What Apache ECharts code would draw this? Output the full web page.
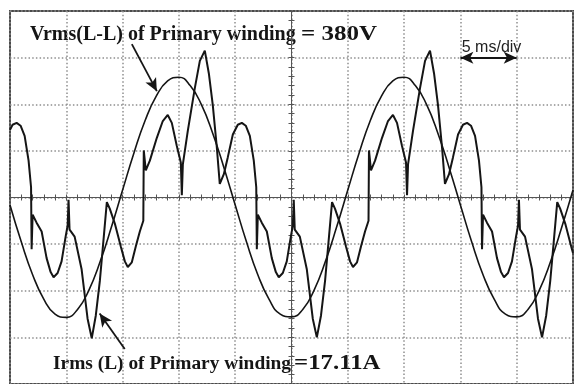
<!DOCTYPE html>
<html>
<head>
<meta charset="utf-8">
<script src="https://cdn.jsdelivr.net/npm/echarts@6/dist/echarts.min.js"></script>
<style>
  html, body { margin: 0; padding: 0; background: #fff; }
  #chart { width: 581px; height: 384px; }
</style>
</head>
<body>
<div id="chart"></div>
<script>
// Time axis in ms (10 divisions of 5 ms), vertical axis in screen divisions.
const timeRange = [-25, 25];
const timeStep = 5;
const divRange = [-4, 4];

// Line-to-line voltage of the primary winding, sampled every 1 ms (divisions).
const voltTime = [-25,-24,-23,-22,-21,-20,-19,-18,-17,-16,-15,-14,-13,-12,-11,-10,-9,-8,-7,-6,-5,-4,-3,-2,-1,
  0,1,2,3,4,5,6,7,8,9,10,11,12,13,14,15,16,17,18,19,20,21,22,23,24,25];
const voltDiv = [-0.16,-0.95,-1.65,-2.18,-2.50,-2.57,-2.40,-1.99,-1.38,-0.64,0.16,0.95,1.65,2.18,2.50,2.58,2.40,1.99,1.38,0.64,
  -0.16,-0.95,-1.65,-2.18,-2.50,-2.56,-2.40,-1.99,-1.38,-0.64,0.16,0.95,1.65,2.18,2.50,2.58,2.40,1.99,1.38,0.64,
  -0.16,-0.95,-1.65,-2.18,-2.50,-2.56,-2.40,-1.99,-1.38,-0.64,0.16];

// Line current of the primary winding (divisions).
const currTime = [
  -25.00,-24.77,-24.41,-24.06,-23.70,-23.35,-23.13,-23.08,-22.99,-22.64,-22.19,-21.75,-21.39,-21.13,-20.77,-20.42,
  -20.06,-19.88,-19.80,-19.71,-19.26,-18.64,-18.11,
  -17.74,-17.38,-17.02,-16.67,-16.40,-16.14,-15.69,-15.16,-14.80,-14.54,-14.18,-13.83,-13.47,-13.16,-13.12,-12.94,
  -12.58,-11.96,-11.43,-10.99,-10.63,-10.19,-9.83,-9.74,-9.65,-9.21,-8.59,-8.14,-7.70,-7.34,-6.99,-6.63,-6.37,
  -6.01,-5.66,-5.21,-4.77,-4.41,-4.06,-3.70,-3.35,-3.13,-3.08,-2.99,-2.64,-2.19,-1.75,-1.39,-1.13,-0.77,-0.42,
  -0.06,0.12,0.20,0.29,0.74,1.36,1.89,2.25,
  2.62,2.98,3.33,3.60,3.86,4.31,4.84,5.20,5.46,5.82,6.17,6.53,6.84,6.88,7.06,7.42,8.04,8.57,9.01,9.37,9.81,
  10.17,10.26,10.35,10.79,11.41,11.86,12.30,12.66,13.01,13.37,13.63,13.99,14.34,14.79,15.23,15.59,15.94,16.30,
  16.65,16.87,16.92,17.01,17.36,17.81,18.25,18.61,18.87,19.23,19.58,19.94,20.12,20.20,20.29,20.74,21.36,21.89,22.25,
  22.62,22.98,23.33,23.60,23.86,24.31,24.84,25.00];
const currDiv = [
  1.45,1.56,1.60,1.54,1.32,0.79,0.22,-1.11,-0.37,-0.54,-0.73,-1.30,-1.60,-1.71,-1.62,-1.37,
  -0.84,-0.60,-0.05,-0.69,-0.84,-1.54,-2.60,
  -3.02,-2.53,-1.79,-0.84,-0.10,-0.24,-0.56,-1.05,-1.37,-1.49,-1.39,-1.05,-0.73,-0.50,1.01,0.58,
  0.79,1.28,1.64,1.77,1.60,1.11,0.75,0.05,0.71,1.43,2.34,2.93,3.15,2.66,1.98,1.07,0.29,
  0.50,0.86,1.35,1.56,1.60,1.54,1.32,0.79,0.22,-1.11,-0.37,-0.54,-0.73,-1.30,-1.60,-1.71,-1.62,-1.37,
  -0.84,-0.60,-0.05,-0.69,-0.84,-1.54,-2.60,-3.00,
  -2.53,-1.79,-0.84,-0.10,-0.24,-0.56,-1.05,-1.37,-1.49,-1.39,-1.05,-0.73,-0.50,1.01,0.58,0.79,1.28,1.64,1.77,1.60,1.11,
  0.75,0.05,0.71,1.43,2.34,2.93,3.15,2.66,1.98,1.07,0.29,0.50,0.86,1.35,1.56,1.60,1.54,1.32,
  0.79,0.22,-1.11,-0.37,-0.54,-0.73,-1.30,-1.60,-1.71,-1.62,-1.37,-0.84,-0.60,-0.05,-0.69,-0.84,-1.54,-2.60,-3.00,
  -2.53,-1.79,-0.84,-0.10,-0.24,-0.56,-1.05,-1.19];

// Annotation texts.
const voltLabel = 'Vrms(L-L) of Primary winding';
const voltValue = '= 380V';
const currLabel = 'Irms (L) of Primary winding';
const currValue = '=17.11A';
const scaleLabel = '5 ms/div';

// Annotation arrows, in axis units: [from, to].
const voltArrow = [[-14.18, 3.29], [-11.96, 2.28]];
const currArrow = [[-14.81, -3.25], [-17.04, -2.49]];
const scaleArrow = [[15, 3], [20, 3]];

const zip = (a, b) => a.map((v, i) => [v, b[i]]);

const ink = '#151515';
const axisGrey = '#555';
const dotted = { color: '#8f8f8f', width: 1.5, type: [1.5, 2.2] };

function timeAxis(position, withGrid) {
  return {
    type: 'value', min: timeRange[0], max: timeRange[1], interval: timeStep,
    position: position,
    axisLine: { show: true, onZero: true, lineStyle: { color: axisGrey, width: 1 } },
    axisTick: { show: true, length: 3, lineStyle: { color: axisGrey } },
    minorTick: { show: true, splitNumber: 5, length: 3, lineStyle: { color: axisGrey } },
    axisLabel: { show: false },
    splitLine: { show: withGrid, lineStyle: dotted }
  };
}
function divAxis(position, withGrid) {
  return {
    type: 'value', min: divRange[0], max: divRange[1], interval: 1,
    position: position,
    axisLine: { show: true, onZero: true, lineStyle: { color: axisGrey, width: 1 } },
    axisTick: { show: true, length: 3, lineStyle: { color: axisGrey } },
    minorTick: { show: true, splitNumber: 5, length: 3, lineStyle: { color: axisGrey } },
    axisLabel: { show: false },
    splitLine: { show: withGrid, lineStyle: dotted }
  };
}

const serif = '"Liberation Serif", "Times New Roman", serif';

const chart = echarts.init(document.getElementById('chart'), null, { renderer: 'canvas' });
chart.setOption({
  animation: false,
  backgroundColor: '#ffffff',
  grid: {
    left: 10, top: 11, width: 563, height: 379,
    show: true, borderColor: '#4a4a4a', borderWidth: 2, backgroundColor: 'transparent'
  },
  xAxis: [timeAxis('bottom', true), timeAxis('top', false)],
  yAxis: [divAxis('left', true), divAxis('right', false)],
  series: [
    {
      name: 'Vrms(L-L)', type: 'line', xAxisIndex: 0, yAxisIndex: 0,
      data: zip(voltTime, voltDiv), smooth: 0.5, showSymbol: false, silent: true,
      lineStyle: { color: ink, width: 1.6 },
      markLine: {
        silent: true, animation: false,
        lineStyle: { color: ink, width: 1.8, type: 'solid' },
        symbolSize: [9, 13],
        label: { show: false },
        data: [
          [{ coord: voltArrow[0], symbol: 'none' }, { coord: voltArrow[1], symbol: 'arrow' }],
          [{ coord: currArrow[0], symbol: 'none' }, { coord: currArrow[1], symbol: 'arrow' }],
          [{ coord: scaleArrow[0], symbol: 'arrow',
             label: {
               show: true, position: 'middle', formatter: scaleLabel, distance: 2, offset: [3, 0],
               color: '#222', fontSize: 16, fontFamily: '"Liberation Sans", Arial, sans-serif'
             } },
           { coord: scaleArrow[1], symbol: 'arrow' }]
        ]
      }
    },
    {
      name: 'Irms(L)', type: 'line', xAxisIndex: 0, yAxisIndex: 0,
      data: zip(currTime, currDiv), smooth: false, showSymbol: false, silent: true,
      lineStyle: { color: ink, width: 2 }
    }
  ],
  graphic: [
    { type: 'text', left: 30, top: 25, silent: true,
      style: { text: voltLabel, font: 'bold 20px ' + serif, fill: ink } },
    { type: 'text', x: 301, y: 25, scaleX: 1.25, silent: true,
      style: { text: voltValue, font: 'bold 20px ' + serif, fill: ink } },
    { type: 'text', left: 53, top: 354, silent: true,
      style: { text: currLabel, font: 'bold 19.4px ' + serif, fill: ink } },
    { type: 'text', x: 294, y: 354, scaleX: 1.24, silent: true,
      style: { text: currValue, font: 'bold 20px ' + serif, fill: ink } }
  ]
});
</script>
</body>
</html>
